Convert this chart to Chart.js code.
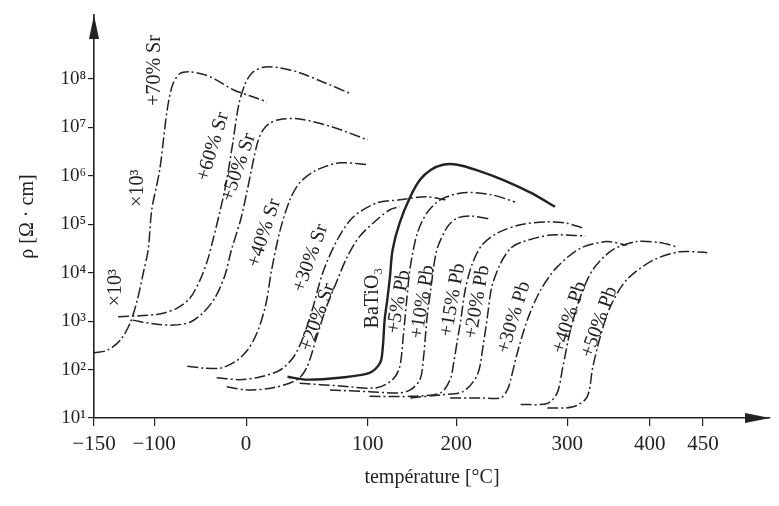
<!DOCTYPE html>
<html>
<head>
<meta charset="utf-8">
<script src="https://cdn.jsdelivr.net/npm/chart.js@4.4.0/dist/chart.umd.min.js"></script>
<style>
  html, body { margin: 0; padding: 0; background: #fff; }
</style>
</head>
<body>
<canvas id="rho-chart" width="779" height="506"></canvas>
<script>
/* Resistivity of doped BaTiO3 vs temperature (Sr / Pb substitution) */

// ── Axis ticks ──────────────────────────────────────────────────────────────
const xTicks = [-150, -100, 0, 100, 200, 300, 400, 450];
const yTicks = [1e1, 1e2, 1e3, 1e4, 1e5, 1e6, 1e7, 1e8];

// the printed temperature axis is not uniform: where each value sits (0..1)
const xStopT   = [-150, -100, 0, 100, 200, 300, 400, 450, 515];
const xStopPos = [0, 0.089, 0.225, 0.405, 0.536, 0.700, 0.822, 0.901, 1];

// ── Series (temperature °C, resistivity Ω·cm) ──────────────────────────────
const sr70T   = [-150, -139, -128, -120, -114, -109, -105, -102, -94, -86, -80, -72, -61, -45, -32, -14, 3, 17];
const sr70Rho = [2.2e2, 2.5e2, 4.1e2, 9.1e2, 2.75e3, 1e4, 2.95e4, 2e5, 1.32e6, 2.2e7, 7.5e7, 1.3e8, 1.41e8, 1.23e8, 9.5e7, 6.0e7, 4.5e7, 3.4e7];

const sr60T   = [-130, -112, -94, -75, -61, -50, -42, -36, -28, -21, -14, -8, -1, 5, 14, 28, 44, 65, 85];
const sr60Rho = [1.23e3, 1.29e3, 1.41e3, 1.86e3, 3.0e3, 7.1e3, 1.8e4, 4.8e4, 2.0e5, 8.3e5, 5.5e6, 2.95e7, 8.0e7, 1.35e8, 1.75e8, 1.7e8, 1.35e8, 8.3e7, 5.1e7];

const sr50T   = [-118, -99, -79, -61, -47, -34, -23, -16, -6, 1, 6, 10, 14, 19, 27, 44, 71, 100];
const sr50Rho = [1.05e3, 8.7e2, 8.3e2, 9.5e2, 1.48e3, 3.0e3, 8.9e3, 2.95e4, 1.23e5, 5.1e5, 2.1e6, 5.5e6, 8.9e6, 1.2e7, 1.45e7, 1.5e7, 1.02e7, 5.5e6];

const sr40T   = [-64, -45, -28, -12, 1, 9, 16, 21, 28, 36, 44, 58, 77, 100];
const sr40Rho = [117, 107, 107, 145, 250, 575, 2.1e3, 1.15e4, 7.6e4, 3.2e5, 7.2e5, 1.32e6, 1.86e6, 1.7e6];

const sr30T   = [-32, -7, 12, 28, 39, 47, 55, 63, 75, 88, 110, 136, 165, 188];
const sr30Rho = [68, 62, 71, 98, 182, 470, 1.95e3, 1e4, 4.8e4, 1.41e5, 2.75e5, 3.2e5, 3.7e5, 3.2e5];

const sr20T   = [-21, 1, 22, 42, 50, 58, 66, 75, 83, 93, 110, 125, 136];
const sr20Rho = [44, 38, 42, 62, 112, 470, 1.95e3, 7.1e3, 2.1e4, 5.5e4, 1.23e5, 2e5, 2.3e5];

const btoT   = [34, 50, 77, 102, 114, 117, 119, 122, 125, 128, 136, 148, 159, 171, 185, 201, 219, 242, 267, 289];
const btoRho = [71, 62, 68, 85, 138, 295, 1.05e3, 2.75e3, 8.1e3, 2.95e4, 1.07e5, 3.7e5, 8.3e5, 1.32e6, 1.7e6, 1.7e6, 1.3e6, 8.3e5, 4.5e5, 2.3e5];

const pb5T   = [44, 77, 110, 128, 136, 140, 144, 148, 156, 167, 182, 206, 231, 253];
const pb5Rho = [52, 46, 42, 62, 112, 470, 2.75e3, 1.32e4, 6.6e4, 1.74e5, 3.2e5, 4.5e5, 4.1e5, 2.9e5];

const pb10T   = [69, 102, 136, 148, 159, 163, 167, 171, 178, 190, 201, 213, 231];
const pb10Rho = [38, 35, 33, 38, 62, 182, 1.23e3, 4.4e3, 2.95e4, 8.9e4, 1.35e5, 1.48e5, 1.29e5];

const pb15T   = [102, 148, 182, 193, 197, 201, 204, 208, 214, 223, 237, 258, 280, 298, 318];
const pb15Rho = [28, 28, 33, 62, 138, 410, 1.05e3, 4.4e3, 1.45e4, 3.7e4, 6.6e4, 9.8e4, 1.12e5, 1.07e5, 8.5e4];

const pb20T   = [148, 182, 206, 219, 224, 228, 232, 240, 249, 258, 285, 322];
const pb20Rho = [26, 30, 35, 78, 295, 1.23e3, 5.1e3, 1.58e4, 3.2e4, 4.2e4, 6.0e4, 5.75e4];

const pb30T   = [193, 222, 240, 246, 249, 255, 264, 276, 291, 316, 348, 372];
const pb30Rho = [26, 26, 26, 38, 62, 220, 1.05e3, 4.4e3, 1.32e4, 3.2e4, 4.4e4, 3.7e4];

const pb40T   = [258, 282, 291, 296, 304, 316, 331, 355, 384, 409, 426];
const pb40Rho = [19, 20, 33, 112, 660, 3.2e3, 1.15e4, 2.95e4, 4.4e4, 4.2e4, 3.4e4];

const pb50T   = [282, 307, 324, 331, 340, 352, 372, 403, 428, 454];
const pb50Rho = [16, 17, 27, 112, 470, 1.95e3, 7.1e3, 1.8e4, 2.7e4, 2.6e4];

// ── Curve labels (text, anchor in °C / Ω·cm, angle) ─────────────────────────
const noteText  = ['+70% Sr', '×10³', '×10³', '+60% Sr', '+50% Sr', '+40% Sr', '+30% Sr', '+20% Sr',
                   'BaTiO₃', '+5% Pb', '+10% Pb', '+15% Pb', '+20% Pb', '+30% Pb', '+40% Pb', '+50% Pb'];
const noteT     = [-99, -114, -132, -36, -8, 15, 53, 59, 106, 135, 162, 196, 219, 252, 303, 339];
const noteRho   = [1.5e8, 5.6e5, 4.9e3, 4e6, 1.5e6, 6.6e4, 2e4, 1.2e3, 3e3, 2.5e3, 2.5e3, 2.75e3, 2.5e3, 1.2e3, 1.2e3, 9.5e2];
const noteAngle = [-90, -90, -90, -73, -71, -72, -70, -70, -90, -80, -81, -80, -80, -73, -72, -70];

const INK   = '#222';
const SERIF = "'Liberation Serif', 'DejaVu Serif', serif";
const SUP   = ['⁰', '¹', '²', '³', '⁴', '⁵', '⁶', '⁷', '⁸', '⁹'];

function interp(v, xs, ys) {
  let i = 1;
  while (i < xs.length - 1 && v > xs[i]) i++;
  return ys[i - 1] + (v - xs[i - 1]) * (ys[i] - ys[i - 1]) / (xs[i] - xs[i - 1]);
}

// linear scale that follows the uneven temperature axis of the original
class StretchScale extends Chart.LinearScale {
  getPixelForValue(value) {
    if (value === null || isNaN(value)) return NaN;
    return this.getPixelForDecimal(interp(value, xStopT, xStopPos));
  }
  getValueForPixel(pixel) {
    return interp(this.getDecimalForPixel(pixel), xStopPos, xStopT);
  }
}
StretchScale.id = 'stretch';
Chart.register(StretchScale);

function curve(T, rho, solid) {
  return {
    data: T.map((t, i) => ({ x: t, y: rho[i] })),
    borderColor: INK,
    borderWidth: solid ? 2.4 : 1.5,
    borderDash: solid ? [] : [11, 3, 2, 3],
    pointRadius: 0,
    tension: 0.3,
    fill: false,
  };
}

const arrowPlugin = {
  id: 'axisArrows',
  afterDraw(chart) {
    const { ctx, chartArea: a } = chart;
    ctx.save();
    ctx.fillStyle = INK;
    ctx.beginPath();
    ctx.moveTo(a.left, a.top);
    ctx.lineTo(a.left - 5, a.top + 24);
    ctx.lineTo(a.left + 5, a.top + 24);
    ctx.closePath();
    ctx.fill();
    ctx.beginPath();
    ctx.moveTo(a.right, a.bottom);
    ctx.lineTo(a.right - 25, a.bottom - 5);
    ctx.lineTo(a.right - 25, a.bottom + 5);
    ctx.closePath();
    ctx.fill();
    ctx.restore();
  },
};

const notePlugin = {
  id: 'curveNotes',
  afterDatasetsDraw(chart) {
    const { ctx, scales } = chart;
    ctx.save();
    ctx.fillStyle = INK;
    ctx.font = `20px ${SERIF}`;
    ctx.textAlign = 'center';
    ctx.textBaseline = 'middle';
    noteText.forEach((txt, i) => {
      const x = scales.x.getPixelForValue(noteT[i]);
      const y = scales.y.getPixelForValue(noteRho[i]);
      ctx.save();
      ctx.translate(x, y);
      ctx.rotate(noteAngle[i] * Math.PI / 180);
      ctx.fillText(txt, 0, 0);
      ctx.restore();
    });
    ctx.restore();
  },
};

new Chart(document.getElementById('rho-chart'), {
  type: 'line',
  data: {
    datasets: [
      curve(sr70T, sr70Rho), curve(sr60T, sr60Rho), curve(sr50T, sr50Rho),
      curve(sr40T, sr40Rho), curve(sr30T, sr30Rho), curve(sr20T, sr20Rho),
      curve(btoT, btoRho, true),
      curve(pb5T, pb5Rho), curve(pb10T, pb10Rho), curve(pb15T, pb15Rho),
      curve(pb20T, pb20Rho), curve(pb30T, pb30Rho), curve(pb40T, pb40Rho),
      curve(pb50T, pb50Rho),
    ],
  },
  options: {
    responsive: false,
    animation: false,
    layout: { padding: { top: 15, right: 9, bottom: 0, left: 0 } },
    plugins: {
      legend: { display: false },
      tooltip: { enabled: false },
    },
    scales: {
      x: {
        type: 'stretch',
        min: -150,
        max: 515,
        afterBuildTicks: s => { s.ticks = xTicks.map(value => ({ value })); },
        afterFit: s => { s.height = 88; },
        ticks: {
          color: INK,
          font: { family: SERIF, size: 21 },
          padding: 6,
          maxRotation: 0,
          autoSkip: false,
          callback: v => (v < 0 ? '\u2212' + Math.abs(v) : String(v)),
        },
        grid: { drawOnChartArea: false, tickLength: 8, color: INK, lineWidth: 1.2 },
        border: { color: INK, width: 1.6 },
        title: {
          display: true,
          text: 'température [°C]',
          color: INK,
          font: { family: SERIF, size: 20 },
          padding: { bottom: 16 },
        },
      },
      y: {
        type: 'logarithmic',
        min: 10,
        max: 2.1e9,
        afterBuildTicks: s => { s.ticks = yTicks.map(value => ({ value })); },
        afterFit: s => { s.width = 94; },
        ticks: {
          color: INK,
          font: { family: SERIF, size: 19 },
          padding: 2,
          autoSkip: false,
          callback: v => '10' + SUP[Math.round(Math.log10(v))],
        },
        grid: { drawOnChartArea: false, tickLength: 6, color: INK, lineWidth: 1.2 },
        border: { color: INK, width: 1.6 },
        title: {
          display: true,
          text: 'ρ [Ω · cm]',
          color: INK,
          font: { family: SERIF, size: 20 },
          padding: { top: 16 },
        },
      },
    },
  },
  plugins: [arrowPlugin, notePlugin],
});
</script>
</body>
</html>
